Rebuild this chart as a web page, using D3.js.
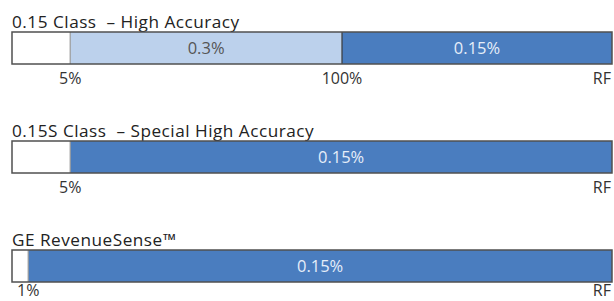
<!DOCTYPE html>
<html><head><meta charset="utf-8">
<script src="https://cdn.jsdelivr.net/npm/d3@7/dist/d3.min.js"></script>
<style>body{margin:0;background:#fff}svg{display:block}</style>
</head><body>
<script>
// Data
const titles = ["0.15 Class  \u2013 High Accuracy", "0.15S Class  \u2013 Special High Accuracy", "GE RevenueSense\u2122"];
// segment boundaries along bar, in % of bar length
const row1Segments = [{s:0,e:9.7,label:"",type:"none"},{s:9.7,e:55,label:"0.3%",type:"light"},{s:55,e:100,label:"0.15%",type:"dark"}];
const row2Segments = [{s:0,e:9.7,label:"",type:"none"},{s:9.7,e:100,label:"0.15%",type:"dark"}];
const row3Segments = [{s:0,e:2.7,label:"",type:"none"},{s:2.7,e:100,label:"0.15%",type:"dark"}];
const row1Ticks = [{v:9.7,t:"5%",a:"middle"},{v:55,t:"100%",a:"middle"},{v:100,t:"RF",a:"end"}];
const row2Ticks = [{v:9.7,t:"5%",a:"middle"},{v:100,t:"RF",a:"end"}];
const row3Ticks = [{v:2.7,t:"1%",a:"middle"},{v:100,t:"RF",a:"end"}];

const rows = [
  {title:titles[0], segs:row1Segments, ticks:row1Ticks},
  {title:titles[1], segs:row2Segments, ticks:row2Ticks},
  {title:titles[2], segs:row3Segments, ticks:row3Ticks}
];
const W=614,H=301;
const svg=d3.select("body").append("svg").attr("width",W).attr("height",H);
const x=d3.scaleLinear().domain([0,100]).range([12,612]);
const y=d3.scaleBand().domain(d3.range(rows.length)).range([32,359]);
const barH=32;
const fill={none:"#ffffff",light:"#bcd1ec",dark:"#4a7dbf"};
const txt={none:"#444",light:"#555",dark:"#e6eef9"};
const font="'Open Sans', Lato, sans-serif";
const tickFs=16;

rows.forEach((r,i)=>{
  const g=svg.append("g").attr("transform",`translate(0,${y(i)})`);
  g.append("text").attr("x",x(0)).attr("y",-4).attr("font-family",font).attr("font-size",17.2)
    .attr("letter-spacing",0.5).attr("fill","#222").attr("xml:space","preserve").style("white-space","pre").text(r.title);
  g.selectAll("rect.seg").data(r.segs).join("rect").attr("class","seg")
    .attr("x",d=>x(d.s)).attr("width",d=>x(d.e)-x(d.s)).attr("y",0).attr("height",barH)
    .attr("fill",d=>fill[d.type]);
  g.selectAll("line.div").data(r.segs.slice(1)).join("line").attr("class","div")
    .attr("x1",d=>x(d.s)).attr("x2",d=>x(d.s)).attr("y1",0).attr("y2",barH)
    .attr("stroke",(d,j)=>r.segs[j].type==="none"?"#9a9a9a":"#3a3a3a").attr("stroke-width",1.2);
  g.append("rect").attr("x",x(0)).attr("y",0).attr("width",x(100)-x(0)).attr("height",barH)
    .attr("fill","none").attr("stroke","#505050").attr("stroke-width",1.5);
  g.selectAll("text.lab").data(r.segs.filter(d=>d.label)).join("text").attr("class","lab")
    .attr("x",d=>(x(d.s)+x(d.e))/2).attr("y",barH/2+6).attr("text-anchor","middle")
    .attr("font-family",font).attr("font-size",16.5).attr("fill",d=>txt[d.type]).text(d=>d.label);
  const ty=Math.min(barH+20, H-y(i)-tickFs*0.3);
  g.selectAll("text.tick").data(r.ticks).join("text").attr("class","tick")
    .attr("x",d=>d.a==="end"?x(d.v)-1:x(d.v)).attr("y",ty).attr("text-anchor",d=>d.a)
    .attr("font-family",font).attr("font-size",tickFs).attr("fill","#333").text(d=>d.t);
});
</script>
</body></html>
